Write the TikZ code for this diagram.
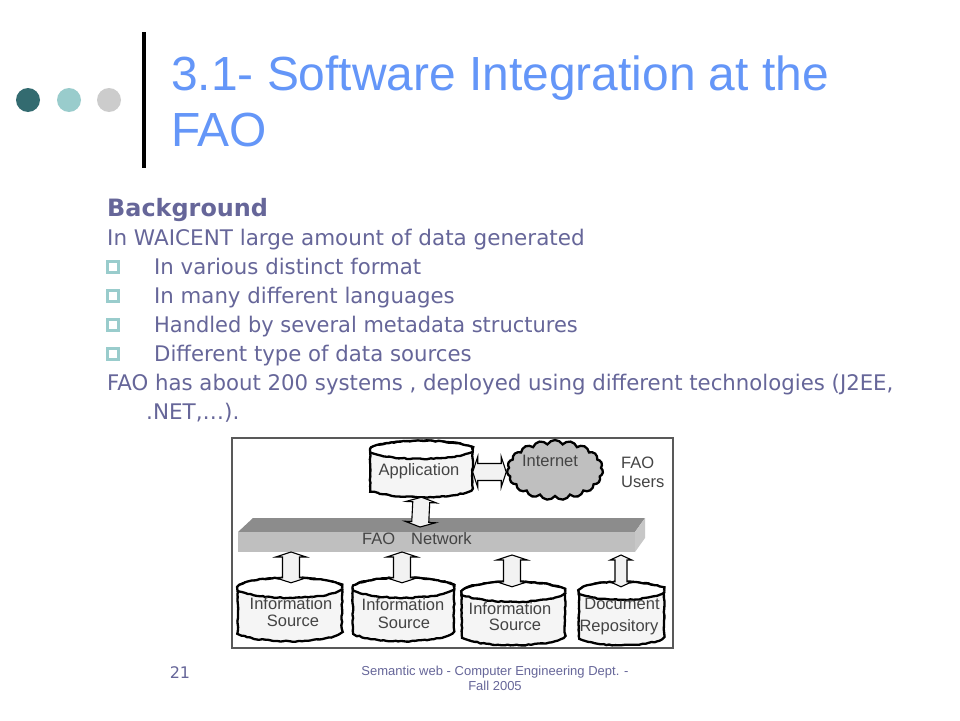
\documentclass[tikz,border=0pt]{standalone}
\usepackage{fontspec}
\setmainfont{Liberation Sans}
\newfontfamily\bodyfont{DejaVu Sans}
\usetikzlibrary{shapes.symbols,calc,decorations.pathmorphing}
\definecolor{titleblue}{HTML}{6496F8}
\definecolor{bodyc}{HTML}{666699}
\definecolor{teal1}{HTML}{336B70}
\definecolor{teal2}{HTML}{99CCCC}
\definecolor{grey1}{HTML}{CCCCCC}
\definecolor{figtext}{HTML}{444444}
\tikzset{
  x=1pt,y=-1pt,
  dot/.style={circle,inner sep=0pt,minimum size=24pt},
  titletext/.style={anchor=base west,inner sep=0pt,text=titleblue,font=\fontsize{47.9}{50}\selectfont},
  bodytext/.style={anchor=base west,inner sep=0pt,text=bodyc,font=\bodyfont\fontsize{21.5}{26}\selectfont},
  headtext/.style={anchor=base west,inner sep=0pt,text=bodyc,font=\bodyfont\bfseries\fontsize{23.9}{28}\selectfont},
  bulletbox/.style={draw=teal2,line width=2.8pt,fill=white,inner sep=0pt,minimum size=10.5pt},
  figlabel/.style={inner sep=0pt,text=figtext,font=\fontsize{16.5}{18}\selectfont},
  foot/.style={inner sep=0pt,text=bodyc,align=center},
  rough/.style={decorate,decoration={random steps,segment length=3pt,amplitude=0.55pt}},
  drumline/.style={draw=black,line width=2.3pt,rough},
  blockarrow/.style={draw=black,line width=1.1pt,fill=black!5,to path={
    ($(\tikztostart)!5pt!(\tikztotarget)$) coordinate (s0)
    ($(\tikztotarget)!5pt!(\tikztostart)$) coordinate (t0)
    ($(s0)!#1!90:(t0)$) coordinate (sa)
    ($(s0)!#1!-90:(t0)$) coordinate (sb)
    ($(t0)!#1!-90:(s0)$) coordinate (ta)
    ($(t0)!#1!90:(s0)$) coordinate (tb)
    ($(s0)!#1*1.8!90:(t0)$) coordinate (sA)
    ($(s0)!#1*1.8!-90:(t0)$) coordinate (sB)
    ($(t0)!#1*1.8!-90:(s0)$) coordinate (tA)
    ($(t0)!#1*1.8!90:(s0)$) coordinate (tB)
    (\tikztostart) -- (sA) -- (sa) -- (ta) -- (tA) -- (\tikztotarget) -- (tB) -- (tb) -- (sb) -- (sB) -- cycle}},
}
% name, centre x, top-ellipse centre y, body bottom y, x radius, y radius
\newcommand\drumshape[6]{%
  \pgfmathsetmacro\drumH{#4-#3+2*#6}%
  \pgfmathsetmacro\drumW{2*#5}%
  \pgfmathsetmacro\drumC{(#3+#4)/2}%
  \node[inner sep=0pt,minimum width=\drumW pt,minimum height=\drumH pt] (#1) at (#2,\drumC) {};
  \draw[drumline,fill=black!4] ([yshift=-#6pt]#1.north west) -- ([yshift=#6pt]#1.south west)
    arc[start angle=180,end angle=360,x radius=#5pt,y radius=#6pt]
    -- ([yshift=-#6pt]#1.north east)
    arc[start angle=0,end angle=180,x radius=#5pt,y radius=#6pt] -- cycle;
  \draw[drumline,fill=white] ([yshift=-#6pt]#1.north) ellipse[x radius=#5pt,y radius=#6pt];
}
\begin{document}
\begin{tikzpicture}
\useasboundingbox (0,0) rectangle (960,720);
\fill[white] (0,0) rectangle (960,720);
% header decoration
\node[dot,fill=teal1] (d1) at (28,100) {};
\node[dot,fill=teal2] (d2) at (69,100) {};
\node[dot,fill=grey1] (d3) at (109,100) {};
\fill[black] (142,32) rectangle (146,168);
% title
\node[titletext] (t1) at (171,90) {3.1- Software Integration at the};
\node[titletext] (t2) at (171,146) {FAO};
% body
\node[headtext] (bg) at (107,216) {Background};
\node[bodytext] (l1) at (107,245) {In WAICENT large amount of data generated};
\node[bodytext] (l2) at (154,274) {\scalebox{0.989}[1]{In various distinct format}};
\node[bodytext] (l3) at (154,303) {\scalebox{0.99}[1]{In many different languages}};
\node[bodytext] (l4) at (154,332) {\scalebox{0.975}[1]{Handled by several metadata structures}};
\node[bodytext] (l5) at (154,361) {\scalebox{0.988}[1]{Different type of data sources}};
\node[bodytext] (l6) at (107,390) {\scalebox{0.989}[1]{FAO has about 200 systems , deployed using different technologies (J2EE,}};
\node[bodytext] (l7) at (146,419) {.NET,…).};
\node[bulletbox] (b2) at (113,267) {};
\node[bulletbox] (b3) at (113,296) {};
\node[bulletbox] (b4) at (113,325) {};
\node[bulletbox] (b5) at (113,354) {};
% figure frame
\draw[draw=black!65,line width=1.8pt,fill=white] (232,438) rectangle (673,648);
% network slab
\fill[black!45] (253,518) -- (645,518) -- (635,532) -- (238,532) -- cycle;
\fill[black!25] (238,532) rectangle (635,552);
\fill[black!22] (635,532) -- (645,518) -- (645,538) -- (635,552) -- cycle;
\node[figlabel,anchor=base west] (n1) at (362,544) {FAO};
\node[figlabel,anchor=base west] (n2) at (411,544) {Network};
\coordinate (netT) at (420,527);
\coordinate (net1) at (291,552);
\coordinate (net2) at (402,552);
\coordinate (net3) at (512,555);
\coordinate (net4) at (621,555);
% cylinders
\drumshape{app}{421.5}{450}{488}{51}{9}
\drumshape{c1}{290}{588}{631}{52}{10}
\drumshape{c2}{403.5}{588}{631}{50.5}{10}
\drumshape{c3}{513.5}{592}{635}{51.5}{10}
\drumshape{c4}{621.5}{591}{636}{42.5}{9}
\node[cloud,cloud puffs=19,cloud puff arc=120,aspect=1.6,draw=black,line width=2.3pt,fill=black!25,inner sep=0pt,minimum width=96pt,minimum height=60pt] (net) at (555,470) {};
% arrows
\draw[blockarrow=8.5pt] (app.south) to (netT);
\draw[blockarrow=8.5pt] (app.east |- 0,472) to (net.west |- 0,472);
\draw[blockarrow=8.5pt] ($(c1.north)+(1,5)$) to (net1);
\draw[blockarrow=8.5pt] ($(c2.north)+(-1.5,5)$) to (net2);
\draw[blockarrow=8.5pt] ($(c3.north)+(-1.5,5)$) to (net3);
\draw[blockarrow=6pt] ($(c4.north)+(-0.5,5)$) to (net4);
% labels
\node[figlabel] (la) at (419,471) {Application};
\node[figlabel] (li) at (550,461) {Internet};
\node[figlabel,anchor=base west] (u1) at (621,468) {FAO};
\node[figlabel,anchor=base west] (u2) at (621,487) {Users};
\node[figlabel] (i1a) at (291,604) {Information};
\node[figlabel] (i1b) at (293,621) {Source};
\node[figlabel] (i2a) at (403,605) {Information};
\node[figlabel] (i2b) at (404,623) {Source};
\node[figlabel] (i3a) at (510,609) {Information};
\node[figlabel] (i3b) at (515,625) {Source};
\node[figlabel] (i4a) at (622,604) {Document};
\node[figlabel] (i4b) at (619,627) {Repository};
% footer
\node[foot,font=\bodyfont\fontsize{16}{18}\selectfont] (pg) at (180,673) {21};
\node[foot,font=\fontsize{13}{15}\selectfont] (ft) at (495,678) {Semantic web - Computer Engineering Dept. -\\Fall 2005};
\end{tikzpicture}
\end{document}
